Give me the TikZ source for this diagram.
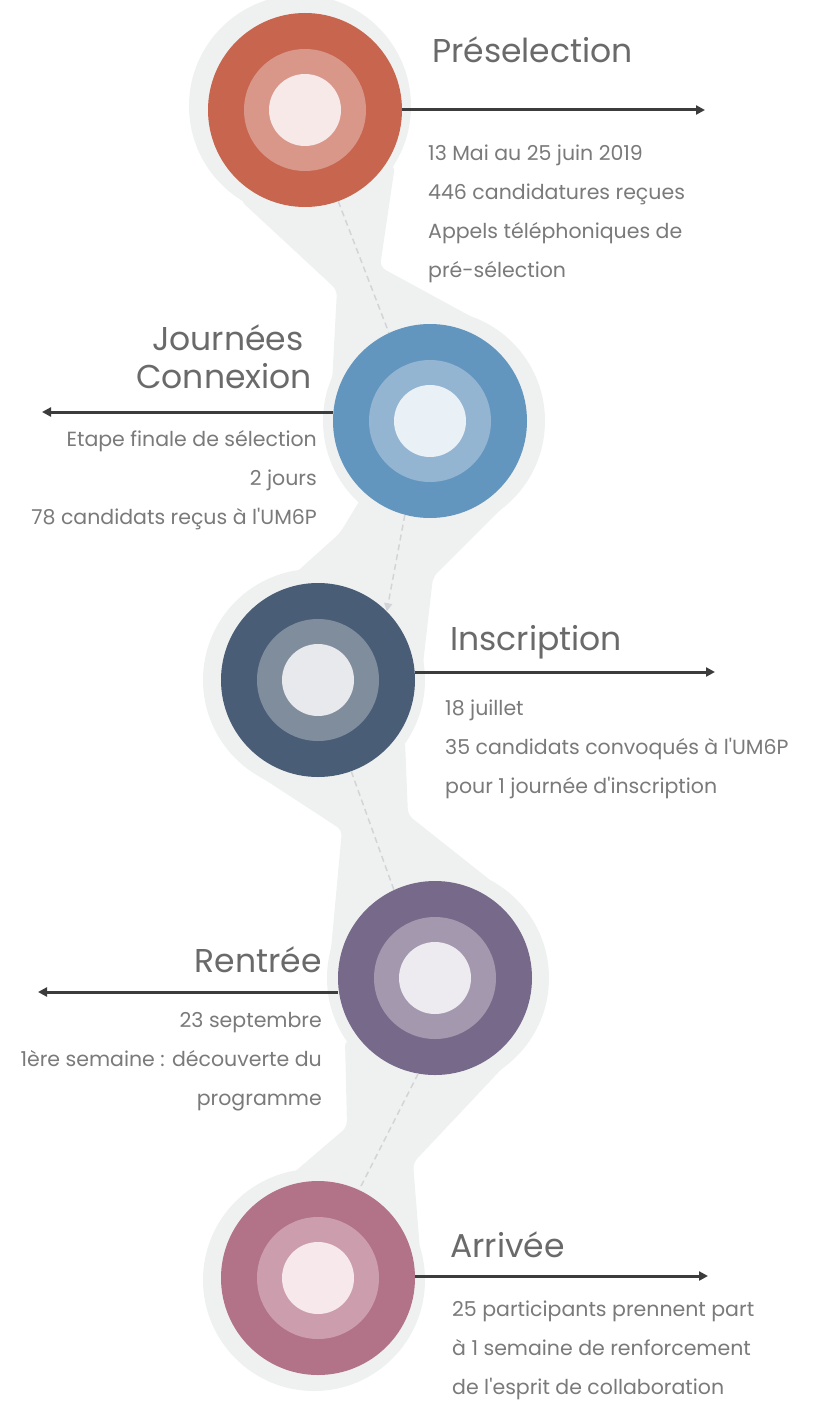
\documentclass[tikz,border=0pt]{standalone}
\usepackage{fontspec}
\setmainfont{Poppins}[Ligatures=TeXOff]
\usetikzlibrary{arrows.meta}
\definecolor{blobc}{HTML}{EFF1F1}
\definecolor{dashc}{HTML}{D2D4D6}
\definecolor{titlec}{HTML}{6A6A6A}
\definecolor{bodyc}{HTML}{7A7A7A}
\definecolor{arrc}{HTML}{3C3C3C}
\definecolor{aO}{HTML}{C8654F}\definecolor{aM}{HTML}{D9978A}\definecolor{aI}{HTML}{F6E9E8}
\definecolor{bO}{HTML}{6396BF}\definecolor{bM}{HTML}{93B5D2}\definecolor{bI}{HTML}{E9F0F6}
\definecolor{cO}{HTML}{4A5D76}\definecolor{cM}{HTML}{808D9D}\definecolor{cI}{HTML}{E8E9EC}
\definecolor{dO}{HTML}{76698A}\definecolor{dM}{HTML}{A398AE}\definecolor{dI}{HTML}{EEEBF0}
\definecolor{eO}{HTML}{B27389}\definecolor{eM}{HTML}{CB9DAD}\definecolor{eI}{HTML}{F7E8EC}
\begin{document}
\begin{tikzpicture}[x=1pt,y=-1pt,
  outerc/.style={circle,inner sep=0pt,minimum size=194pt},
  midc/.style={circle,inner sep=0pt,minimum size=122pt},
  innc/.style={circle,inner sep=0pt,minimum size=72pt},
  halo/.style={circle,inner sep=0pt,minimum size=222pt,fill=blobc},
  neck/.style={fill=blobc,rounded corners=6pt},
  arr/.style={line width=3pt,draw=arrc,-{Triangle[length=9pt,width=9pt]}},
  dashline/.style={dashed,dash pattern=on 6pt off 4pt,line width=1.5pt,draw=dashc},
  ttl/.style={text=titlec,font=\fontsize{33}{38}\selectfont,inner sep=0pt},
  bodytxt/.style={text=bodyc,font=\fontsize{20.5}{39}\selectfont,inner sep=0pt}]
\useasboundingbox (0,0) rectangle (815,1410);
\fill[white] (0,0) rectangle (815,1410);
% background ribbon: necks between halos
\fill[neck] (240,200) -- (337,290) -- (330,421) -- (540,421) -- (505,335) -- (380,267) -- (395,165) -- cycle;
\fill[neck] (360,500) -- (340,533) -- (210,650) -- (314,680) -- (420,690) -- (433,577) -- (510,500) -- (434,421) -- cycle;
\fill[neck] (250,770) -- (342,830) -- (330,960) -- (545,960) -- (490,880) -- (408,815) -- (405,740) -- cycle;
\fill[neck] (345,1040) -- (347,1127) -- (215,1240) -- (314,1280) -- (420,1250) -- (413,1163) -- (510,1060) -- cycle;
\node[halo] (h1) at (300,106) {};
\node[halo] (h2) at (434,421) {};
\node[halo] (h3) at (314,680) {};
\node[halo] (h4) at (438,978) {};
\node[halo] (h5) at (314,1280) {};
% stage circles
\node[outerc,fill=aO] (s1) at (305,110) {};
\node[outerc,fill=bO] (s2) at (430,421) {};
\node[outerc,fill=cO] (s3) at (318,680) {};
\node[outerc,fill=dO] (s4) at (435,978) {};
\node[outerc,fill=eO] (s5) at (318,1278) {};
% dashed connectors
\draw[dashline] (s1.-70) -- (s2.115);
\draw[dashline,-{Triangle[length=8pt,width=8pt]}] (s2.-105) -- (s3.45);
\draw[dashline] (s3.-70) -- (s4.115);
\draw[dashline] (s4.-100) -- (s5.65);
% rings
\foreach \n/\m/\i in {s1/aM/aI,s2/bM/bI,s3/cM/cI,s4/dM/dI,s5/eM/eI}{
  \node[midc,fill=\m] at (\n.center) {};
  \node[innc,fill=\i] at (\n.center) {};
}
% arrows
\coordinate (e1) at (705,110);
\coordinate (e2) at (42,412);
\coordinate (e3) at (715,672);
\coordinate (e4) at (38,992);
\coordinate (e5) at (708,1276);
\draw[arr] (s1.east |- e1) -- (e1);
\draw[arr] (s2.west |- e2) -- (e2);
\draw[arr] (s3.east |- e3) -- (e3);
\draw[arr] (s4.west |- e4) -- (e4);
\draw[arr] (s5.east |- e5) -- (e5);
% titles
\node[ttl,anchor=base west] (t1) at (432,63) {Préselection};
\node[ttl,anchor=base east,align=right] (t2) at (312,388) {Journées\hspace*{0.25em}\\Connexion};
\node[ttl,anchor=base west] (t3) at (450,650) {Inscription};
\node[ttl,anchor=base east] (t4) at (322,972) {Rentrée};
\node[ttl,anchor=base west] (t5) at (450,1257) {Arrivée};
% bodies (base = last line)
\node[bodytxt,anchor=base west,align=left] (b1) at (428,277) {13 Mai au 25 juin 2019\\446 candidatures reçues\\Appels téléphoniques de\\pré-sélection};
\node[bodytxt,anchor=base east,align=right] (b2) at (317,524) {Etape finale de sélection\\2 jours\\78 candidats reçus à l'UM6P};
\node[bodytxt,anchor=base west,align=left] (b3) at (445,793) {18 juillet\\35 candidats convoqués à l'UM6P\\pour 1 journée d'inscription};
\node[bodytxt,anchor=base east,align=right] (b4) at (322,1105) {23 septembre\\1ère semaine : découverte du\hspace*{0.9em}\\programme};
\node[bodytxt,anchor=base west,align=left] (b5) at (452,1394) {25 participants prennent part\\à 1 semaine de renforcement\\de l'esprit de collaboration};
\end{tikzpicture}
\end{document}
